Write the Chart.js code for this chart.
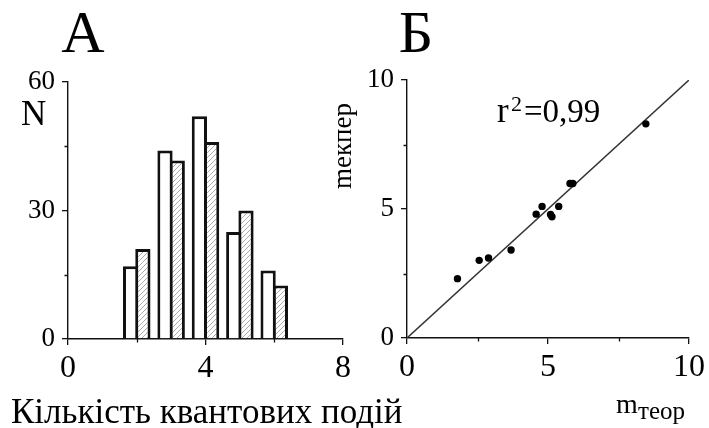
<!DOCTYPE html>
<html>
<head>
<meta charset="utf-8">
<script src="https://cdn.jsdelivr.net/npm/chart.js@4.4.1/dist/chart.umd.min.js"></script>
<style>
  html, body { margin: 0; padding: 0; background: #fff; }
  #wrap { position: relative; width: 709px; height: 428px; }
  canvas { position: absolute; left: 0; top: 0; }
</style>
</head>
<body>
<div id="wrap">
  <canvas id="hist" width="709" height="428"></canvas>
  <canvas id="scat" width="709" height="428"></canvas>
</div>
<script>
// Panel A: distribution of quantal event counts
const histCenters  = [2, 3, 4, 5, 6];
const histObserved = [17, 44, 52, 25, 16];
const histTheory   = [21, 41.7, 46, 30, 12.5];
const histXTicks = [0, 4, 8];
const histXMinor = [2, 6];
const histYTicks = [0, 30, 60];
const histYMinor = [15, 45];

// Panel B: experimental vs theoretical m
const mTheor = [1.79, 2.56, 2.89, 3.69, 4.58, 4.79, 5.09, 5.14, 5.38, 5.78, 5.88, 8.47];
const mExper = [2.30, 3.01, 3.10, 3.41, 4.80, 5.10, 4.79, 4.70, 5.10, 5.99, 5.99, 8.30];
const fitX = [0, 10];
const fitY = [0, 10];
const scatXTicks = [0, 5, 10];
const scatXMinor = [2.5, 7.5];
const scatYTicks = [0, 5, 10];
const scatYMinor = [2.5, 7.5];

const SERIF = '"Liberation Serif", "Times New Roman", serif';
const INK = '#111';

// diagonal hatching for the theoretical bars
function makeHatch() {
  const n = 5;
  const c = document.createElement('canvas');
  c.width = n; c.height = n;
  const g = c.getContext('2d');
  g.fillStyle = '#fff';
  g.fillRect(0, 0, n, n);
  g.strokeStyle = '#a2a2a2';
  g.lineWidth = 0.9;
  g.beginPath();
  g.moveTo(0, n); g.lineTo(n, 0);
  g.moveTo(-1, 1); g.lineTo(1, -1);
  g.moveTo(n - 1, n + 1); g.lineTo(n + 1, n - 1);
  g.stroke();
  return g.createPattern(c, 'repeat');
}

function fixedTicks(values) {
  return function (scale) { scale.ticks = values.map(v => ({ value: v })); };
}

// short ticks between the labelled ones
function minorTicksPlugin(xMinor, yMinor) {
  return {
    id: 'minorTicks',
    afterDraw(chart) {
      const ctx = chart.ctx;
      const xs = chart.scales.x, ys = chart.scales.y;
      ctx.save();
      ctx.strokeStyle = INK;
      ctx.lineWidth = 1.3;
      ctx.beginPath();
      xMinor.forEach(v => {
        const px = Math.round(xs.getPixelForValue(v)) + 0.5;
        ctx.moveTo(px, xs.top); ctx.lineTo(px, xs.top + 3.5);
      });
      yMinor.forEach(v => {
        const py = Math.round(ys.getPixelForValue(v)) + 0.5;
        ctx.moveTo(ys.right, py); ctx.lineTo(ys.right - 3.5, py);
      });
      ctx.stroke();
      ctx.restore();
    }
  };
}

function axisStyle(fontSize, pad) {
  return {
    grid: { display: true, drawOnChartArea: false, drawTicks: true, tickLength: 6,
            color: INK, tickColor: INK, lineWidth: 1.3, offset: false },
    border: { display: true, color: INK, width: 1.4 },
    ticks: { color: '#000', font: { family: SERIF, size: fontSize }, padding: pad, maxRotation: 0 }
  };
}

function merge(a, b) { return Object.assign({}, a, b); }

// ---------- Panel A ----------
const histLabels = {
  id: 'histLabels',
  afterDraw(chart) {
    const ctx = chart.ctx;
    ctx.save();
    ctx.fillStyle = '#000';
    ctx.textBaseline = 'alphabetic';
    ctx.textAlign = 'center';
    ctx.font = '60px ' + SERIF;
    ctx.fillText('А', 83, 52);
    ctx.textAlign = 'left';
    ctx.font = '35px ' + SERIF;
    ctx.fillText('N', 21, 125);
    ctx.fillText('Кількість квантових подій', 11, 423);
    ctx.restore();
  }
};

const hatch = makeHatch();
const barStyle = {
  borderColor: INK,
  borderWidth: 3,
  borderSkipped: 'bottom',
  categoryPercentage: 0.7126,
  barPercentage: 1.245
};
new Chart(document.getElementById('hist'), {
  type: 'bar',
  data: {
    datasets: [
      Object.assign({
        label: 'експеримент',
        data: histCenters.map((x, i) => ({ x: x, y: histObserved[i] })),
        backgroundColor: '#fff'
      }, barStyle),
      Object.assign({
        label: 'теорія',
        data: histCenters.map((x, i) => ({ x: x, y: histTheory[i] })),
        backgroundColor: hatch
      }, barStyle)
    ]
  },
  options: {
    responsive: false,
    animation: false,
    events: [],
    layout: { padding: { left: 18, top: 82, right: 366, bottom: 39 } },
    plugins: { legend: { display: false }, tooltip: { enabled: false } },
    scales: {
      x: merge(axisStyle(32, 4), {
        type: 'linear', min: 0, max: 8, offset: false,
        afterBuildTicks: fixedTicks(histXTicks),
        afterFit(s) { s.height = 50; }
      }),
      y: merge(axisStyle(27, 7), {
        type: 'linear', min: 0, max: 60,
        afterBuildTicks: fixedTicks(histYTicks),
        afterFit(s) { s.width = 50; }
      })
    }
  },
  plugins: [minorTicksPlugin(histXMinor, histYMinor), histLabels]
});

// ---------- Panel B ----------
const scatLabels = {
  id: 'scatLabels',
  afterDraw(chart) {
    const ctx = chart.ctx;
    ctx.save();
    ctx.fillStyle = '#000';
    ctx.textBaseline = 'alphabetic';
    ctx.textAlign = 'center';
    ctx.font = '60px ' + SERIF;
    ctx.fillText('Б', 416, 52);

    ctx.textAlign = 'left';
    ctx.font = '35px ' + SERIF;
    ctx.fillText('r', 497, 122);
    ctx.font = '22px ' + SERIF;
    ctx.fillText('2', 511, 111);
    ctx.font = '33px ' + SERIF;
    ctx.fillText('=0,99', 524, 122);

    ctx.font = '28px ' + SERIF;
    ctx.fillText('m', 616, 413);
    ctx.font = '25px ' + SERIF;
    ctx.fillText('теор', 638, 419);

    ctx.translate(351, 189);
    ctx.rotate(-Math.PI / 2);
    ctx.font = '27px ' + SERIF;
    ctx.fillText('mекпер', 0, 0);
    ctx.restore();
  }
};

new Chart(document.getElementById('scat'), {
  type: 'scatter',
  data: {
    datasets: [
      {
        label: 'm',
        data: mTheor.map((x, i) => ({ x: x, y: mExper[i] })),
        backgroundColor: '#000',
        borderColor: '#000',
        pointRadius: 3.7,
        pointBorderWidth: 0,
        showLine: false,
        order: 0
      },
      {
        label: 'fit',
        data: fitX.map((x, i) => ({ x: x, y: fitY[i] })),
        showLine: true,
        borderColor: '#333',
        borderWidth: 1.5,
        pointRadius: 0,
        fill: false,
        order: 1
      }
    ]
  },
  options: {
    responsive: false,
    animation: false,
    events: [],
    layout: { padding: { left: 357, top: 80, right: 18, bottom: 40 } },
    plugins: { legend: { display: false }, tooltip: { enabled: false } },
    scales: {
      x: merge(axisStyle(32, 4), {
        type: 'linear', min: 0, max: 10,
        afterBuildTicks: fixedTicks(scatXTicks),
        afterFit(s) { s.height = 50; }
      }),
      y: merge(axisStyle(27, 7), {
        type: 'linear', min: 0, max: 10,
        afterBuildTicks: fixedTicks(scatYTicks),
        afterFit(s) { s.width = 50; }
      })
    }
  },
  plugins: [minorTicksPlugin(scatXMinor, scatYMinor), scatLabels]
});
</script>
</body>
</html>
